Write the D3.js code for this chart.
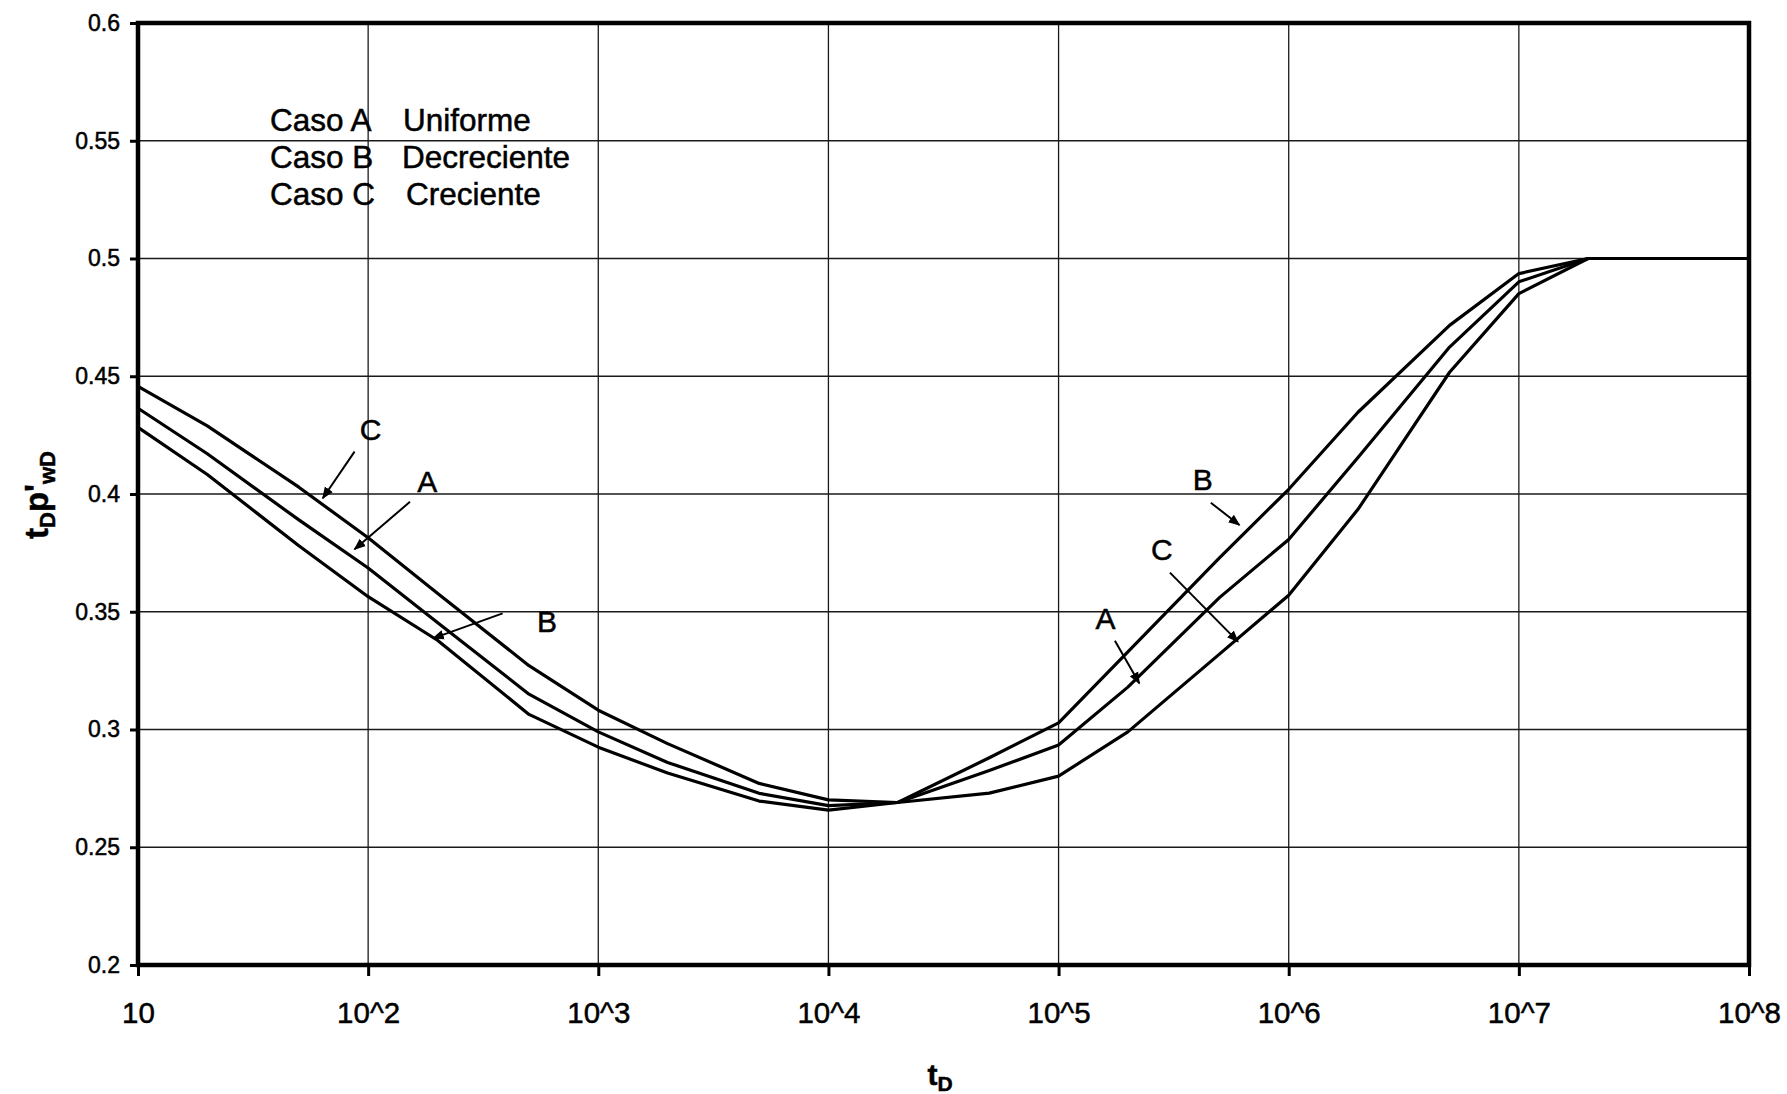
<!DOCTYPE html>
<html>
<head>
<meta charset="utf-8">
<script src="https://cdn.jsdelivr.net/npm/d3@7"></script>
<style>
  html, body { margin: 0; padding: 0; background: #fff; }
  svg { display: block; }
  text { font-family: "Liberation Sans", Arial, Helvetica, sans-serif; fill: #000; stroke: #000; stroke-width: 0.5px; }
</style>
</head>
<body>
<svg id="chart" width="1787" height="1094"></svg>
<script>
// Dimensionless time and pressure-derivative group for the three cases
const tD = [10, 20, 50, 100, 200, 500, 1e3, 2e3, 5e3, 1e4, 2e4, 5e4, 1e5, 2e5, 5e5, 1e6, 2e6, 5e6, 1e7, 2e7, 5e7, 1e8];
const casoA = [0.4364, 0.4171, 0.3890, 0.3686, 0.3454, 0.3150, 0.2990, 0.2860, 0.2729, 0.2677, 0.2690, 0.2826, 0.2934, 0.3180, 0.3560, 0.3807, 0.4155, 0.4624, 0.4901, 0.5000, 0.5000, 0.5000];
const casoB = [0.4283, 0.4083, 0.3780, 0.3564, 0.3379, 0.3064, 0.2925, 0.2815, 0.2696, 0.2658, 0.2690, 0.2880, 0.3028, 0.3330, 0.3729, 0.4020, 0.4347, 0.4716, 0.4936, 0.5000, 0.5000, 0.5000];
const casoC = [0.4457, 0.4289, 0.4029, 0.3814, 0.3579, 0.3271, 0.3082, 0.2940, 0.2771, 0.2701, 0.2690, 0.2730, 0.2802, 0.2990, 0.3320, 0.3570, 0.3935, 0.4517, 0.4851, 0.5000, 0.5000, 0.5000];

const xTickValues = [1e1, 1e2, 1e3, 1e4, 1e5, 1e6, 1e7, 1e8];
const xTickLabels = ["10", "10^2", "10^3", "10^4", "10^5", "10^6", "10^7", "10^8"];
const yTickValues = [0.2, 0.25, 0.3, 0.35, 0.4, 0.45, 0.5, 0.55, 0.6];
const yTickLabels = ["0.2", "0.25", "0.3", "0.35", "0.4", "0.45", "0.5", "0.55", "0.6"];

const legendCases = ["Caso A", "Caso B", "Caso C"];
const legendNames = ["Uniforme", "Decreciente", "Creciente"];

// Curve callouts: letter, letter position, arrow start, arrow tip (in tD / value units)
const calloutLetters = ["C", "A", "B", "B", "C", "A"];
const calloutAt   = [[102.5, 0.4272], [180.6, 0.4052], [598.7, 0.3458], [4.235e5, 0.4062], [2.812e5, 0.3765], [1.60e5, 0.3472]];
const calloutFrom = [[87.3, 0.4180], [152.0, 0.3967], [384.0, 0.3493], [4.587e5, 0.3963], [3.047e5, 0.3666], [1.757e5, 0.3377]];
const calloutTo   = [[63.5, 0.3982], [87.3, 0.3765], [191.3, 0.3387], [6.107e5, 0.3868], [6.02e5, 0.3373], [2.243e5, 0.3196]];

const svg = d3.select("#chart");
svg.append("rect").attr("width", 1787).attr("height", 1094).attr("fill", "#fff");

const plotLeft = 138, plotRight = 1749, plotTop = 23, plotBottom = 965;
const x = d3.scaleLog().domain([1e1, 1e8]).range([plotLeft, plotRight]);
const y = d3.scaleLinear().domain([0.2, 0.6]).range([plotBottom, plotTop]);

// Grid
const grid = svg.append("g").attr("stroke", "#1a1a1a").attr("stroke-width", 1.3);
grid.selectAll("line.v").data(xTickValues.slice(1, -1)).join("line")
  .attr("class", "v")
  .attr("x1", d => x(d)).attr("x2", d => x(d))
  .attr("y1", plotTop).attr("y2", plotBottom);
grid.selectAll("line.h").data(yTickValues.slice(1, -1)).join("line")
  .attr("class", "h")
  .attr("x1", plotLeft).attr("x2", plotRight)
  .attr("y1", d => y(d)).attr("y2", d => y(d));

// Axes
const xAxis = d3.axisBottom(x)
  .tickValues(xTickValues)
  .tickFormat((d, i) => xTickLabels[i])
  .tickSize(11)
  .tickPadding(26);
const gx = svg.append("g").attr("transform", `translate(0,${plotBottom})`).call(xAxis);
gx.select(".domain").remove();
gx.selectAll(".tick line").attr("stroke", "#000").attr("stroke-width", 3);
gx.selectAll(".tick text")
  .attr("font-size", 29.5)
  .attr("font-family", "Liberation Sans, Arial, sans-serif")
  .attr("fill", "#000");

const yAxis = d3.axisLeft(y)
  .tickValues(yTickValues)
  .tickFormat((d, i) => yTickLabels[i])
  .tickSize(8)
  .tickPadding(10);
const gy = svg.append("g").attr("transform", `translate(${plotLeft},0)`).call(yAxis);
gy.select(".domain").remove();
gy.selectAll(".tick line").attr("stroke", "#000").attr("stroke-width", 3);
gy.selectAll(".tick text")
  .attr("font-size", 23)
  .attr("font-family", "Liberation Sans, Arial, sans-serif")
  .attr("fill", "#000");

// Plot frame
svg.append("rect")
  .attr("x", plotLeft).attr("y", plotTop)
  .attr("width", plotRight - plotLeft).attr("height", plotBottom - plotTop)
  .attr("fill", "none").attr("stroke", "#000").attr("stroke-width", 4.5);

// Curves
const line = d3.line().x(d => x(d[0])).y(d => y(d[1]));
[casoA, casoB, casoC].forEach(series => {
  svg.append("path")
    .datum(tD.map((t, i) => [t, series[i]]))
    .attr("d", line)
    .attr("fill", "none")
    .attr("stroke", "#000")
    .attr("stroke-width", 3.2)
    .attr("stroke-linejoin", "round");
});

// Legend text block
const legend = svg.append("g");
legendCases.forEach((c, i) => {
  legend.append("text").attr("x", 270).attr("y", 131 + i * 37)
    .attr("font-size", 31.5).text(c);
  legend.append("text").attr("x", [403, 402, 406][i]).attr("y", 131 + i * 37)
    .attr("font-size", 31.5).text(legendNames[i]);
});

// Callout arrows
svg.append("defs").append("marker")
  .attr("id", "arrowhead")
  .attr("viewBox", "0 0 10 10")
  .attr("refX", 9).attr("refY", 5)
  .attr("markerWidth", 6).attr("markerHeight", 6)
  .attr("markerUnits", "strokeWidth")
  .attr("orient", "auto")
  .append("path").attr("d", "M0,1 L10,5 L0,9 Z").attr("fill", "#000");

const callouts = svg.append("g");
calloutLetters.forEach((letter, i) => {
  callouts.append("line")
    .attr("x1", x(calloutFrom[i][0])).attr("y1", y(calloutFrom[i][1]))
    .attr("x2", x(calloutTo[i][0])).attr("y2", y(calloutTo[i][1]))
    .attr("stroke", "#000").attr("stroke-width", 2)
    .attr("marker-end", "url(#arrowhead)");
  callouts.append("text")
    .attr("x", x(calloutAt[i][0])).attr("y", y(calloutAt[i][1]))
    .attr("text-anchor", "middle").attr("dominant-baseline", "central")
    .attr("font-size", 30).text(letter);
});

// Axis titles
const xt = svg.append("text")
  .attr("x", 940).attr("y", 1085)
  .attr("text-anchor", "middle")
  .attr("font-size", 30).attr("font-weight", "bold");
xt.append("tspan").text("t");
xt.append("tspan").attr("font-size", 21).attr("dy", 6).text("D");

const yt = svg.append("text")
  .attr("transform", "translate(48,495) rotate(-90)")
  .attr("text-anchor", "middle")
  .attr("font-size", 33).attr("font-weight", "bold");
yt.append("tspan").text("t");
yt.append("tspan").attr("font-size", 22).attr("dy", 7).text("D");
yt.append("tspan").attr("dy", -7).text("p'");
yt.append("tspan").attr("font-size", 22).attr("dy", 7).text("wD");
</script>
</body>
</html>
